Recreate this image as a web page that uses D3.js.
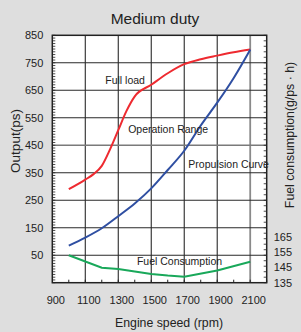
<!DOCTYPE html>
<html><head><meta charset="utf-8">
<script src="https://cdn.jsdelivr.net/npm/d3@7"></script>
<style>
html,body{margin:0;padding:0;background:#dedede;}
svg{display:block;font-family:"Liberation Sans",Arial,sans-serif;}
</style></head>
<body>
<svg id="c" width="301" height="332"></svg>
<script>
const rpmFull = [1000,1100,1150,1200,1250,1300,1350,1400,1500,1600,1700,1800,1900,2000,2100];
const fullLoad = [290,325,345,375,435,505,575,628,670,712,745,763,776,788,798];
const rpmProp = [1000,1100,1200,1300,1400,1500,1600,1700,1800,1900,2000,2100];
const propulsion = [85,114,148,192,238,293,360,430,522,605,695,798];
const rpmFuel = [1000,1200,1300,1400,1500,1600,1700,1900,2100];
const fuel = [152.8,144.7,143.9,142.3,140.6,139.6,138.9,142.9,148.6];
const xTicks = [900,1100,1300,1500,1700,1900,2100];
const yTicks = [850,750,650,550,450,350,250,150,50];
const y2Ticks = [165,155,145,135];
const labels = [
  {text:"Full load", rpm:1221, v:673},
  {text:"Operation Range", rpm:1360, v:495},
  {text:"Propulsion Curve", rpm:1725, v:367},
  {text:"Fuel Consumption", rpm:1413, v:15}
];

const svg = d3.select("#c");
const L=52.3, R=266.7, T=35.3, B=282.7;
const x = d3.scaleLinear().domain([900,2200]).range([L,R]);
const y = d3.scaleLinear().domain([-50,850]).range([B,T]);
const y2 = d3.scaleLinear().domain([135,295.6]).range([B,T]);
const ink = "#222";

svg.append("rect").attr("x",L).attr("y",T).attr("width",R-L).attr("height",B-T).attr("fill","#fff");

// grid
const gx = [1100,1300,1500,1700,1900,2100];
const gy = [750,650,550,450,350,250,150,50];
svg.append("g").selectAll("line").data(gx).join("line")
  .attr("x1",d=>x(d)).attr("x2",d=>x(d)).attr("y1",T).attr("y2",B)
  .attr("stroke",d=>d===2100?"#8a8a8a":"#2a2a2a").attr("stroke-width",d=>d===2100?1.8:1.1);
svg.append("g").selectAll("line").data(gy).join("line")
  .attr("y1",d=>y(d)).attr("y2",d=>y(d)).attr("x1",L).attr("x2",R)
  .attr("stroke",d=>d===450?"#7a7a7a":"#2a2a2a").attr("stroke-width",d=>d===450?1.6:1.1);

// minor ticks
svg.append("g").selectAll("line").data(d3.range(-50,851,10)).join("line")
  .attr("x1",L).attr("x2",L+3).attr("y1",d=>y(d)).attr("y2",d=>y(d))
  .attr("stroke",ink).attr("stroke-width",0.8);
svg.append("g").selectAll("line").data(d3.range(-50,851,20)).join("line")
  .attr("x1",R).attr("x2",R-3).attr("y1",d=>y(d)).attr("y2",d=>y(d))
  .attr("stroke",ink).attr("stroke-width",0.8);
svg.append("g").selectAll("line").data(d3.range(1000,2201,100)).join("line")
  .attr("x1",d=>x(d)).attr("x2",d=>x(d)).attr("y1",B).attr("y2",B-3)
  .attr("stroke",ink).attr("stroke-width",1);

// frame
svg.append("rect").attr("x",L).attr("y",T).attr("width",R-L).attr("height",B-T)
  .attr("fill","none").attr("stroke",ink).attr("stroke-width",1.5);

// curves
const line = (xs,ys,sc,curve)=>d3.line().x((d,i)=>x(xs[i])).y(d=>sc(d)).curve(curve)(ys);
svg.append("path").attr("d",line(rpmFull,fullLoad,y,d3.curveMonotoneX))
  .attr("fill","none").attr("stroke","#ee2a30").attr("stroke-width",2);
svg.append("path").attr("d",line(rpmProp,propulsion,y,d3.curveMonotoneX))
  .attr("fill","none").attr("stroke","#2f4fa2").attr("stroke-width",2);
svg.append("path").attr("d",line(rpmFuel,fuel,y2,d3.curveLinear))
  .attr("fill","none").attr("stroke","#19a85a").attr("stroke-width",2);

// labels
svg.append("g").selectAll("text").data(labels).join("text")
  .attr("x",d=>x(d.rpm)).attr("y",d=>y(d.v)).attr("font-size",10.5).attr("fill",ink)
  .text(d=>d.text);

// axes labels
const ax = d3.axisLeft(y).tickValues(yTicks).tickSize(0).tickPadding(9);
const gL = svg.append("g").attr("transform",`translate(${L},0)`).call(ax);
gL.select(".domain").remove();
gL.selectAll("text").attr("font-size",11).attr("fill",ink).attr("font-family","Liberation Sans, Arial");

const ax2 = d3.axisRight(y2).tickValues(y2Ticks).tickSize(0).tickPadding(7);
const gR = svg.append("g").attr("transform",`translate(${R},0)`).call(ax2);
gR.select(".domain").remove();
gR.selectAll("text").attr("font-size",11).attr("fill",ink).attr("font-family","Liberation Sans, Arial");

const axB = d3.axisBottom(x).tickValues(xTicks).tickSize(0).tickPadding(14).tickFormat(d3.format("d"));
const gB = svg.append("g").attr("transform",`translate(3,${B})`).call(axB);
gB.select(".domain").remove();
gB.selectAll("text").attr("font-size",11).attr("fill",ink).attr("font-family","Liberation Sans, Arial");

svg.append("text").attr("x",155).attr("y",24).attr("text-anchor","middle")
  .attr("font-size",15.5).attr("fill",ink).text("Medium duty");
svg.append("text").attr("x",169).attr("y",327).attr("text-anchor","middle")
  .attr("font-size",12.3).attr("fill",ink).text("Engine speed (rpm)");
svg.append("text").attr("transform","translate(19.5,141) rotate(-90)").attr("text-anchor","middle")
  .attr("font-size",13.5).attr("fill",ink).text("Output(ps)");
svg.append("text").attr("transform","translate(294,135) rotate(-90)").attr("text-anchor","middle")
  .attr("font-size",12.3).attr("fill",ink).text("Fuel consumption(g/ps · h)");
</script>
</body></html>
